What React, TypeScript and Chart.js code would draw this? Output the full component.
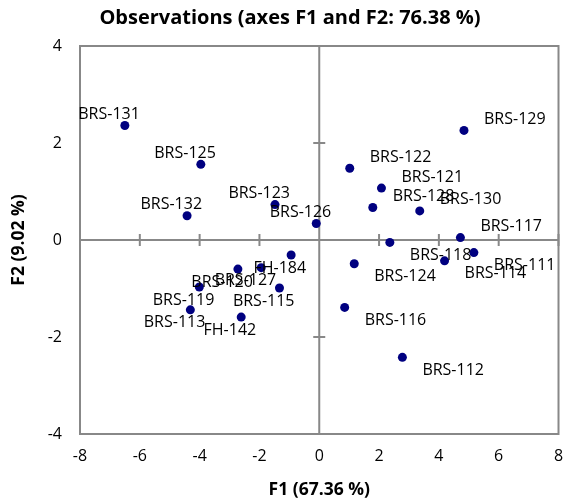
import React, { useEffect, useRef } from 'react';
import { Chart, registerables } from 'chart.js';

Chart.register(...registerables);

const TITLE = 'Observations (axes F1 and F2: 76.38 %)';
const X_TITLE = 'F1 (67.36 %)';
const Y_TITLE = 'F2 (9.02 %)';

const names = [
  'BRS-131', 'BRS-125', 'BRS-132', 'BRS-123', 'BRS-126', 'FH-184',
  'BRS-127', 'BRS-120', 'BRS-119', 'BRS-115', 'BRS-113', 'FH-142',
  'BRS-129', 'BRS-122', 'BRS-121', 'BRS-128', 'BRS-130', 'BRS-117',
  'BRS-118', 'BRS-124', 'BRS-114', 'BRS-111', 'BRS-116', 'BRS-112',
];
const f1 = [
  -6.5, -3.96, -4.42, -1.48, -0.1, -0.94,
  -1.94, -2.72, -4.01, -1.33, -4.31, -2.61,
  4.84, 1.02, 2.08, 1.79, 3.36, 4.72,
  2.36, 1.17, 4.19, 5.17, 0.85, 2.78,
];
const f2 = [
  2.36, 1.56, 0.5, 0.73, 0.34, -0.31,
  -0.57, -0.6, -0.97, -0.99, -1.44, -1.59,
  2.26, 1.48, 1.07, 0.67, 0.6, 0.05,
  -0.05, -0.49, -0.43, -0.26, -1.39, -2.42,
];
const xTicks = [-8, -6, -4, -2, 0, 2, 4, 6, 8];
const yTicks = [-4, -2, 0, 2, 4];

const FONT = "'Open Sans', 'Noto Sans', sans-serif";
const GREY = '#888888';

const framePlugin = {
  id: 'frame',
  beforeDatasetsDraw(chart: any) {
    const { ctx, chartArea: a, scales } = chart;
    const xs = scales.x;
    const ys = scales.y;
    const x0 = xs.getPixelForValue(0);
    const y0 = ys.getPixelForValue(0);
    ctx.save();
    ctx.strokeStyle = GREY;
    ctx.lineWidth = 2;
    ctx.strokeRect(a.left, a.top, a.right - a.left, a.bottom - a.top);
    ctx.beginPath();
    ctx.moveTo(x0, a.top);
    ctx.lineTo(x0, a.bottom);
    ctx.moveTo(a.left, y0);
    ctx.lineTo(a.right, y0);
    xTicks.forEach((v) => {
      const px = xs.getPixelForValue(v);
      ctx.moveTo(px, y0 - 6);
      ctx.lineTo(px, y0 + 6);
    });
    yTicks.forEach((v) => {
      const py = ys.getPixelForValue(v);
      ctx.moveTo(x0 - 6, py);
      ctx.lineTo(x0 + 6, py);
    });
    ctx.stroke();
    ctx.restore();
  },
  afterDraw(chart: any) {
    const { ctx } = chart;
    ctx.save();
    ctx.font = `bold 20px ${FONT}`;
    ctx.fillStyle = '#000000';
    ctx.textAlign = 'center';
    ctx.textBaseline = 'middle';
    ctx.fillText(TITLE, 290, 18);
    ctx.restore();
  },
};

const labelPlugin = {
  id: 'pointLabels',
  afterDatasetsDraw(chart: any) {
    const { ctx } = chart;
    const meta = chart.getDatasetMeta(0);
    ctx.save();
    ctx.font = `16px ${FONT}`;
    ctx.fillStyle = '#000000';
    ctx.textBaseline = 'middle';
    meta.data.forEach((el: any, i: number) => {
      const left = f1[i] < 0;
      const above = f2[i] >= 0;
      ctx.textAlign = left ? 'right' : 'left';
      const tx = left ? el.x + 15 : el.x + 20;
      const ty = above ? el.y - 11 : el.y + 13;
      ctx.fillText(names[i], tx, ty);
    });
    ctx.restore();
  },
};

export default function App() {
  const ref = useRef<HTMLCanvasElement>(null);
  useEffect(() => {
    document.body.style.margin = '0';
    const canvas = ref.current;
    if (!canvas) return;
    const chart = new Chart(canvas, {
      type: 'scatter',
      data: {
        datasets: [
          {
            data: f1.map((x, i) => ({ x, y: f2[i] })),
            backgroundColor: '#000080',
            borderWidth: 0,
            pointRadius: 4.5,
            pointHoverRadius: 4.5,
          },
        ],
      },
      options: {
        animation: false,
        responsive: false,
        devicePixelRatio: 1,
        events: [],
        layout: { padding: { left: 0, right: 4, top: 46, bottom: 0 } },
        plugins: {
          legend: { display: false },
          tooltip: { enabled: false },
          title: { display: false },
        },
        scales: {
          x: {
            type: 'linear',
            min: -8,
            max: 8,
            afterBuildTicks: (s: any) => {
              s.ticks = xTicks.map((v) => ({ value: v }));
            },
            afterFit: (s: any) => {
              s.height = 68;
              s.paddingLeft = 0;
              s.paddingRight = 0;
            },
            grid: { display: false, drawTicks: false, tickLength: 0 },
            border: { display: false },
            ticks: {
              color: '#000000',
              font: { family: FONT, size: 16 },
              padding: 13,
              autoSkip: false,
              maxRotation: 0,
            },
            title: {
              display: true,
              text: X_TITLE,
              color: '#000000',
              font: { family: FONT, size: 17.5, weight: 'bold' },
              padding: { top: 0, bottom: 1.5 },
            },
          },
          y: {
            type: 'linear',
            min: -4,
            max: 4,
            afterBuildTicks: (s: any) => {
              s.ticks = yTicks.map((v) => ({ value: v }));
            },
            afterFit: (s: any) => {
              s.width = 80;
              s.paddingTop = 0;
              s.paddingBottom = 0;
            },
            grid: { display: false, drawTicks: false, tickLength: 0 },
            border: { display: false },
            ticks: {
              color: '#000000',
              font: { family: FONT, size: 16 },
              padding: 18,
              autoSkip: false,
            },
            title: {
              display: true,
              text: Y_TITLE,
              color: '#000000',
              font: { family: FONT, size: 17.5, weight: 'bold' },
              padding: { top: 9, bottom: 0 },
            },
          },
        },
      },
      plugins: [framePlugin, labelPlugin],
    } as any);
    return () => chart.destroy();
  }, []);
  return (
    <div style={{ position: 'absolute', left: 0, top: 0, width: 563, height: 502 }}>
      <canvas ref={ref} width={563} height={502} />
    </div>
  );
}
